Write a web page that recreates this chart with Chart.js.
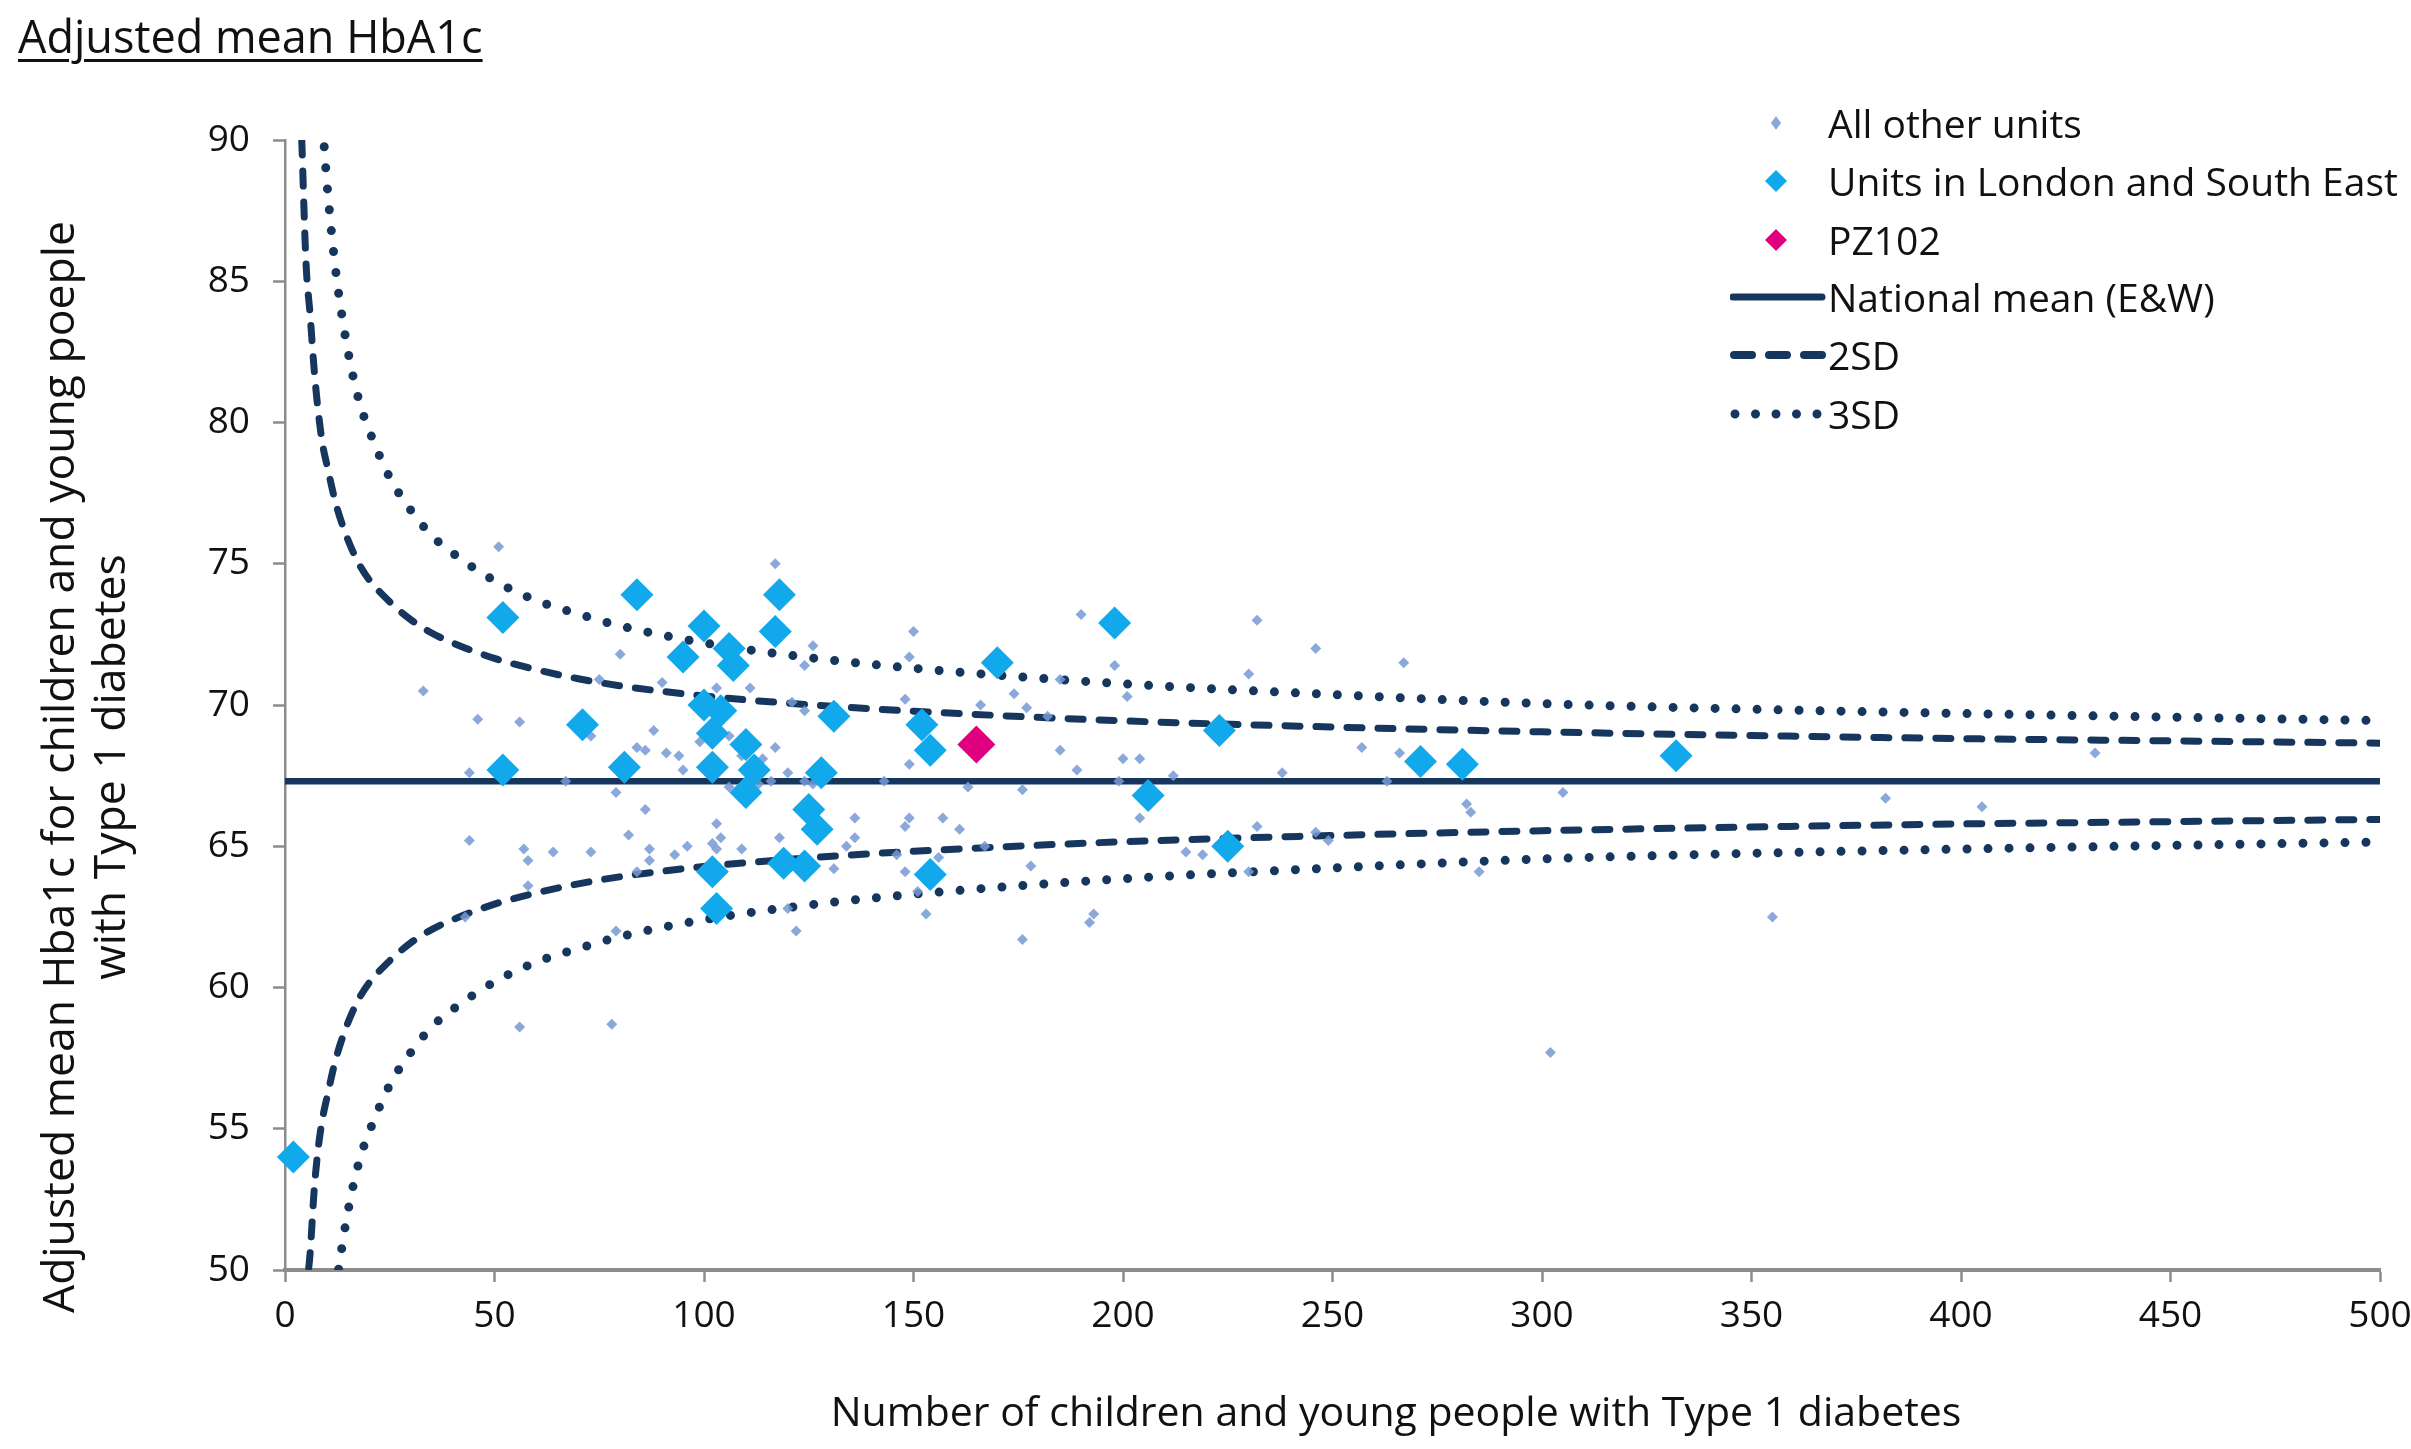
<!DOCTYPE html>
<html>
<head>
<meta charset="utf-8">
<title>Adjusted mean HbA1c</title>
<script src="https://cdn.jsdelivr.net/npm/chart.js@4.4.1/dist/chart.umd.min.js"></script>
<style>
    html, body { margin: 0; padding: 0; background: #ffffff; }
    #wrap { position: relative; width: 2411px; height: 1449px; font-family: 'Open Sans', sans-serif; color: #111111; overflow: hidden; }
    #chart { position: absolute; left: 0; top: 0; }
    .pageTitle { position: absolute; left: 18px; top: 4px; font-size: 45px; line-height: 64px; text-decoration: underline; text-underline-offset: 6px; text-decoration-thickness: 3px; white-space: nowrap; }
    .yTitle { position: absolute; left: 82px; top: 767px; width: 1200px; font-size: 44.5px; line-height: 51px; text-align: center; transform: translate(-50%, -50%) rotate(-90deg); white-space: nowrap; }
    .xTitle { position: absolute; left: 1396px; top: 1410px; font-size: 41px; line-height: 50px; transform: translate(-50%, -50%); white-space: nowrap; }
    .legendRow { position: absolute; left: 1730px; height: 44px; }
    .legendRow svg { position: absolute; left: 0; top: 0; }
    .legendRow span { position: absolute; left: 98px; top: 0; font-size: 39px; line-height: 44px; white-space: nowrap; }
</style>
</head>
<body>
<div id="wrap">
    <canvas id="chart" width="2411" height="1449"></canvas>
    <div class="pageTitle">Adjusted mean HbA1c</div>
    <div class="yTitle">Adjusted mean Hba1c for children and young poeple<br>with Type 1 diabetes</div>
    <div class="xTitle">Number of children and young people with Type 1 diabetes</div>
    <div id="legend"></div>
</div>
<script>
// all other units (small light diamonds)
const otherN = [33, 43, 44, 44, 46, 51, 56, 56, 57, 58, 58, 64, 67, 73, 73, 75, 78, 79, 79, 80,
    82, 84, 84, 86, 86, 87, 87, 88, 90, 91, 93, 94, 95, 96, 99, 102, 103, 103, 103, 104,
    106, 106, 109, 109, 111, 113, 114, 116, 117, 117, 118, 120, 120, 121, 122, 124, 124, 124, 126, 126,
    131, 134, 136, 136, 143, 146, 148, 148, 148, 149, 149, 149, 150, 151, 153, 156, 157, 161, 163, 166,
    167, 174, 176, 176, 177, 178, 182, 185, 185, 189, 190, 192, 193, 198, 199, 200, 201, 204, 204, 212,
    215, 219, 230, 230, 232, 232, 238, 246, 246, 249, 257, 263, 266, 267, 282, 283, 285, 302, 305, 355,
    382, 405, 432];
const otherHbA1c = [70.5, 62.5, 67.6, 65.2, 69.5, 75.6, 69.4, 58.6, 64.9, 64.5, 63.6, 64.8, 67.3, 68.9, 64.8, 70.9, 58.7, 66.9, 62.0, 71.8,
    65.4, 68.5, 64.1, 68.4, 66.3, 64.9, 64.5, 69.1, 70.8, 68.3, 64.7, 68.2, 67.7, 65.0, 68.7, 65.1, 70.6, 65.8, 64.9, 65.3,
    68.9, 67.1, 68.2, 64.9, 70.6, 67.2, 68.1, 67.3, 75.0, 68.5, 65.3, 67.6, 62.8, 70.1, 62.0, 71.4, 69.8, 67.3, 72.1, 67.2,
    64.2, 65.0, 66.0, 65.3, 67.3, 64.7, 70.2, 65.7, 64.1, 71.7, 67.9, 66.0, 72.6, 63.4, 62.6, 64.6, 66.0, 65.6, 67.1, 70.0,
    65.0, 70.4, 67.0, 61.7, 69.9, 64.3, 69.6, 70.9, 68.4, 67.7, 73.2, 62.3, 62.6, 71.4, 67.3, 68.1, 70.3, 68.1, 66.0, 67.5,
    64.8, 64.7, 71.1, 64.1, 73.0, 65.7, 67.6, 72.0, 65.5, 65.2, 68.5, 67.3, 68.3, 71.5, 66.5, 66.2, 64.1, 57.7, 66.9, 62.5,
    66.7, 66.4, 68.3];

// units in London and South East (large blue diamonds)
const londonN = [2, 52, 52, 71, 81, 84, 95, 100, 100, 102, 102, 102, 103, 104, 106, 107, 110, 110, 112,
    117, 118, 119, 124, 125, 127, 128, 131, 152, 154, 154, 170, 198, 206, 223, 225, 271, 281, 332];
const londonHbA1c = [54.0, 73.1, 67.7, 69.3, 67.8, 73.9, 71.7, 72.8, 70.0, 69.0, 67.8, 64.1, 62.8, 69.8, 72.0, 71.4, 68.6, 66.9, 67.7,
    72.6, 73.9, 64.4, 64.3, 66.3, 65.6, 67.6, 69.6, 69.3, 68.4, 64.0, 71.5, 72.9, 66.8, 69.1, 65.0, 68.0, 67.9, 68.2];

// highlighted unit
const pzN = [165];
const pzHbA1c = [68.6];

// national mean (E&W)
const meanN = [0, 500];
const meanHbA1c = [67.3, 67.3];

// control limits read along the funnel
const limitN = [4, 5, 6, 7, 8, 9, 10, 12, 14, 16, 18, 20, 25, 30, 35, 40, 50, 60, 70, 80, 100, 125, 150, 200, 250, 300, 350, 400, 450, 500];
const upper2SD = [90.0, 85.7, 83.8, 81.8, 80.3, 79.2, 78.5, 77.2, 76.25, 75.5, 74.9, 74.45, 73.65, 73.02, 72.55, 72.2, 71.65, 71.25, 70.93, 70.68,
    70.32, 70.01, 69.78, 69.44, 69.22, 69.05, 68.92, 68.81, 68.73, 68.65];
const lower2SD = [44.6, 48.9, 50.6, 52.9, 54.4, 55.4, 56.1, 57.4, 58.35, 59.1, 59.7, 60.15, 60.95, 61.58, 62.05, 62.4, 62.95, 63.35, 63.67, 63.92,
    64.28, 64.59, 64.82, 65.16, 65.38, 65.55, 65.68, 65.79, 65.87, 65.95];
const upper3SD = [null, null, null, null, null, 90.5, 88.5, 85.5, 83.4, 81.8, 80.6, 79.75, 78.05, 76.9, 76.0, 75.38, 74.4, 73.7, 73.22, 72.8,
    72.2, 71.68, 71.3, 70.75, 70.37, 70.05, 69.85, 69.7, 69.57, 69.45];
const lower3SD = [null, null, null, null, null, 44.1, 46.1, 49.1, 51.2, 52.8, 54.0, 54.85, 56.55, 57.7, 58.6, 59.22, 60.2, 60.9, 61.38, 61.8,
    62.4, 62.92, 63.3, 63.85, 64.23, 64.55, 64.75, 64.9, 65.03, 65.15];

// axes
const xMin = 0, xMax = 500, xStep = 50;
const yMin = 50, yMax = 90, yStep = 5;

const navy = '#17365d';
const axisGrey = '#8c8c8c';
const otherColor = 'rgba(118, 154, 212, 0.85)';
const londonColor = '#12a8ec';
const pzColor = '#df007f';
const dashPattern = [15, 16];
const dotPattern = [0, 21];

function toPoints(xs, ys) {
    return xs.map((x, i) => ({ x: x, y: ys[i] }));
}

function limitLine(label, ys, dash, width) {
    return {
        type: 'line',
        label: label,
        data: toPoints(limitN, ys),
        borderColor: navy,
        borderWidth: width,
        borderDash: dash,
        borderCapStyle: 'round',
        pointRadius: 0,
        pointHoverRadius: 0,
        fill: false,
        cubicInterpolationMode: 'monotone',
        order: 6
    };
}

function buildLegend() {
    const legend = document.getElementById('legend');
    const rows = [
        { y: 123, text: 'All other units', svg: '<polygon points="46,15 51,22 46,29 41,22" fill="' + otherColor + '"/>' },
        { y: 181, text: 'Units in London and South East', svg: '<polygon points="46,11 57,22 46,33 35,22" fill="' + londonColor + '"/>' },
        { y: 240, text: 'PZ102', svg: '<polygon points="46,11 57,22 46,33 35,22" fill="' + pzColor + '"/>' },
        { y: 297, text: 'National mean (E&W)', svg: '<line x1="3" y1="22" x2="92" y2="22" stroke="' + navy + '" stroke-width="7" stroke-linecap="round"/>' },
        { y: 355, text: '2SD', svg: '<line x1="4" y1="22" x2="92" y2="22" stroke="' + navy + '" stroke-width="8" stroke-linecap="round" stroke-dasharray="18 17"/>' },
        { y: 414, text: '3SD', svg: '<line x1="5" y1="22" x2="92" y2="22" stroke="' + navy + '" stroke-width="9" stroke-linecap="round" stroke-dasharray="0 20.5"/>' }
    ];
    rows.forEach(row => {
        const div = document.createElement('div');
        div.className = 'legendRow';
        div.style.top = (row.y - 22) + 'px';
        div.innerHTML = '<svg width="96" height="44" viewBox="0 0 96 44">' + row.svg + '</svg>';
        const span = document.createElement('span');
        span.textContent = row.text;
        div.appendChild(span);
        legend.appendChild(div);
    });
}

window.onload = () => {
    buildLegend();
    const ctx = document.getElementById('chart').getContext('2d');
    new Chart(ctx, {
        type: 'scatter',
        data: {
            datasets: [
                {
                    label: 'PZ102',
                    data: toPoints(pzN, pzHbA1c),
                    pointStyle: 'rectRot',
                    pointRadius: 19,
                    backgroundColor: pzColor,
                    borderWidth: 0,
                    clip: false,
                    order: 1
                },
                {
                    label: 'Units in London and South East',
                    data: toPoints(londonN, londonHbA1c),
                    pointStyle: 'rectRot',
                    pointRadius: 16.5,
                    backgroundColor: londonColor,
                    borderWidth: 0,
                    clip: false,
                    order: 2
                },
                {
                    label: 'All other units',
                    data: toPoints(otherN, otherHbA1c),
                    pointStyle: 'rectRot',
                    pointRadius: 5.5,
                    backgroundColor: otherColor,
                    borderWidth: 0,
                    clip: false,
                    order: 3
                },
                {
                    type: 'line',
                    label: 'National mean (E&W)',
                    data: toPoints(meanN, meanHbA1c),
                    borderColor: navy,
                    borderWidth: 6.5,
                    pointRadius: 0,
                    pointHoverRadius: 0,
                    fill: false,
                    order: 4
                },
                limitLine('2SD upper', upper2SD, dashPattern, 7),
                limitLine('2SD lower', lower2SD, dashPattern, 7),
                limitLine('3SD upper', upper3SD, dotPattern, 9),
                limitLine('3SD lower', lower3SD, dotPattern, 9)
            ]
        },
        options: {
            responsive: false,
            animation: false,
            devicePixelRatio: 1,
            events: [],
            layout: { padding: { top: 140, right: 31, left: 0, bottom: 0 } },
            plugins: {
                legend: { display: false },
                tooltip: { enabled: false }
            },
            scales: {
                x: {
                    type: 'linear',
                    min: xMin,
                    max: xMax,
                    afterFit: scale => {
                        scale.height = 179;
                        // let the last label run past the plot edge, as in the original
                        scale.paddingLeft = 0;
                        scale.paddingRight = 0;
                    },
                    ticks: {
                        stepSize: xStep,
                        padding: 12,
                        color: '#111111',
                        font: { family: 'Open Sans', size: 37 }
                    },
                    grid: { drawOnChartArea: false, drawTicks: true, tickLength: 12, tickColor: axisGrey, tickWidth: 2.5 },
                    border: { display: true, color: axisGrey, width: 4 }
                },
                y: {
                    type: 'linear',
                    min: yMin,
                    max: yMax,
                    afterFit: scale => { scale.width = 285; },
                    ticks: {
                        stepSize: yStep,
                        padding: 23,
                        color: '#111111',
                        font: { family: 'Open Sans', size: 37 }
                    },
                    grid: { drawOnChartArea: false, drawTicks: true, tickLength: 12, tickColor: axisGrey, tickWidth: 2.5 },
                    border: { display: true, color: axisGrey, width: 2.5 }
                }
            }
        }
    });
};
</script>
</body>
</html>
